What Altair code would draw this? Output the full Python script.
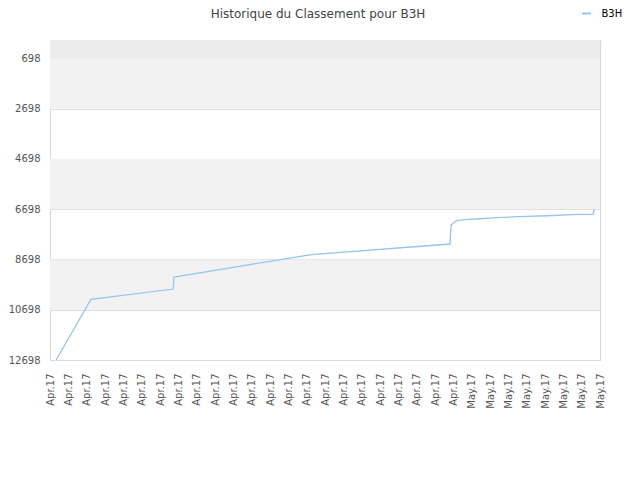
import altair as alt
import pandas as pd

# Data
times = [
    "2017-04-08T08:00:00Z", "2017-04-10T05:40:00Z", "2017-04-14T17:20:00Z",
    "2017-04-14T18:20:00Z", "2017-04-22T06:30:00Z", "2017-04-29T19:40:00Z",
    "2017-04-29T21:00:00Z", "2017-04-30T04:20:00Z", "2017-04-30T15:15:00Z",
    "2017-05-01T10:55:00Z", "2017-05-02T08:45:00Z", "2017-05-03T12:40:00Z",
    "2017-05-05T03:55:00Z", "2017-05-06T19:10:00Z", "2017-05-07T14:50:00Z",
    "2017-05-07T16:30:00Z",
]
ranks = [12698, 10285, 9875, 9398, 8503, 8085, 7329, 7158, 7118, 7079,
         7039, 6999, 6960, 6904, 6904, 6693]
series_name = "B3H"
title_text = "Historique du Classement pour B3H"
y_ticks = [698, 2698, 4698, 6698, 8698, 10698, 12698]
band_lo = [-30, 698, 4698, 8698]
band_hi = [698, 2698, 6698, 10698]
band_col = ["#ececec", "#f2f2f2", "#f2f2f2", "#f2f2f2"]
tick_days = [f"2017-04-{d:02d}" for d in range(8, 31)] + [f"2017-05-{d:02d}" for d in range(1, 9)]

LINE_COLOR = "#95c5f2"
FONT = "DejaVu Sans"

line_df = pd.DataFrame({"t": times, "rank": ranks, "s": [series_name] * len(times)})
band_df = pd.DataFrame({"lo": band_lo, "hi": band_hi, "c": band_col})
tick_values = [alt.DateTime(year=int(s[:4]), month=int(s[5:7]), date=int(s[8:10]), utc=True) for s in tick_days]

y_scale = alt.Scale(domain=[-30, 12698], reverse=True, nice=False, zero=False)
x_scale = alt.Scale(type="utc", domain=[alt.DateTime(year=2017, month=4, date=8, utc=True),
                                        alt.DateTime(year=2017, month=5, date=8, utc=True)])
y_axis = alt.Axis(values=y_ticks, format="d", labelPadding=10, ticks=False, domain=False,
                  grid=True, gridColor="#dcdcdc", labelFont=FONT, labelFontSize=10,
                  labelColor="#555555")

bands = alt.Chart(band_df).mark_rect().encode(
    x=alt.value(0), x2=alt.value(550),
    y=alt.Y("lo:Q", scale=y_scale, axis=y_axis, title=None),
    y2="hi:Q",
    fill=alt.Fill("c:N", scale=None, legend=None),
)

line = alt.Chart(line_df).mark_line(strokeWidth=1.3, interpolate="linear", color=LINE_COLOR).encode(
    x=alt.X("t:T", scale=x_scale, title=None,
            axis=alt.Axis(values=tick_values, labelExpr="utcFormat(datum.value, '%b.%y')",
                          labelAngle=-90, labelPadding=13, ticks=False, grid=False,
                          domain=False, labelFont=FONT, labelFontSize=10,
                          labelColor="#555555", labelOverlap=False, labelFlush=False)),
    y=alt.Y("rank:Q", scale=y_scale, title=None, axis=y_axis),
)

title_df = pd.DataFrame({"txt": [title_text]})
title = alt.Chart(title_df).mark_text(font=FONT, fontSize=12, color="#444444",
                                      align="center", baseline="alphabetic").encode(
    x=alt.value(268), y=alt.value(-22), text="txt:N")

leg_df = pd.DataFrame({"txt": [series_name]})
leg_sym = alt.Chart(leg_df).mark_rule(color=LINE_COLOR, strokeWidth=2).encode(
    x=alt.value(532), x2=alt.value(541), y=alt.value(-26.5))
leg_txt = alt.Chart(leg_df).mark_text(font=FONT, fontSize=10, color="#000000",
                                      align="left", baseline="middle").encode(
    x=alt.value(551.5), y=alt.value(-26.5), text="txt:N")

chart = alt.layer(bands, line, title, leg_sym, leg_txt).properties(
    width=550, height=320,
    autosize=alt.AutoSizeParams(type="none"),
    padding={"left": 42, "top": 32, "right": 30, "bottom": 110},
).configure_view(stroke="#d8d8d8", strokeWidth=1)

chart.save("out.html", embed_options={"renderer": "svg", "actions": False})
